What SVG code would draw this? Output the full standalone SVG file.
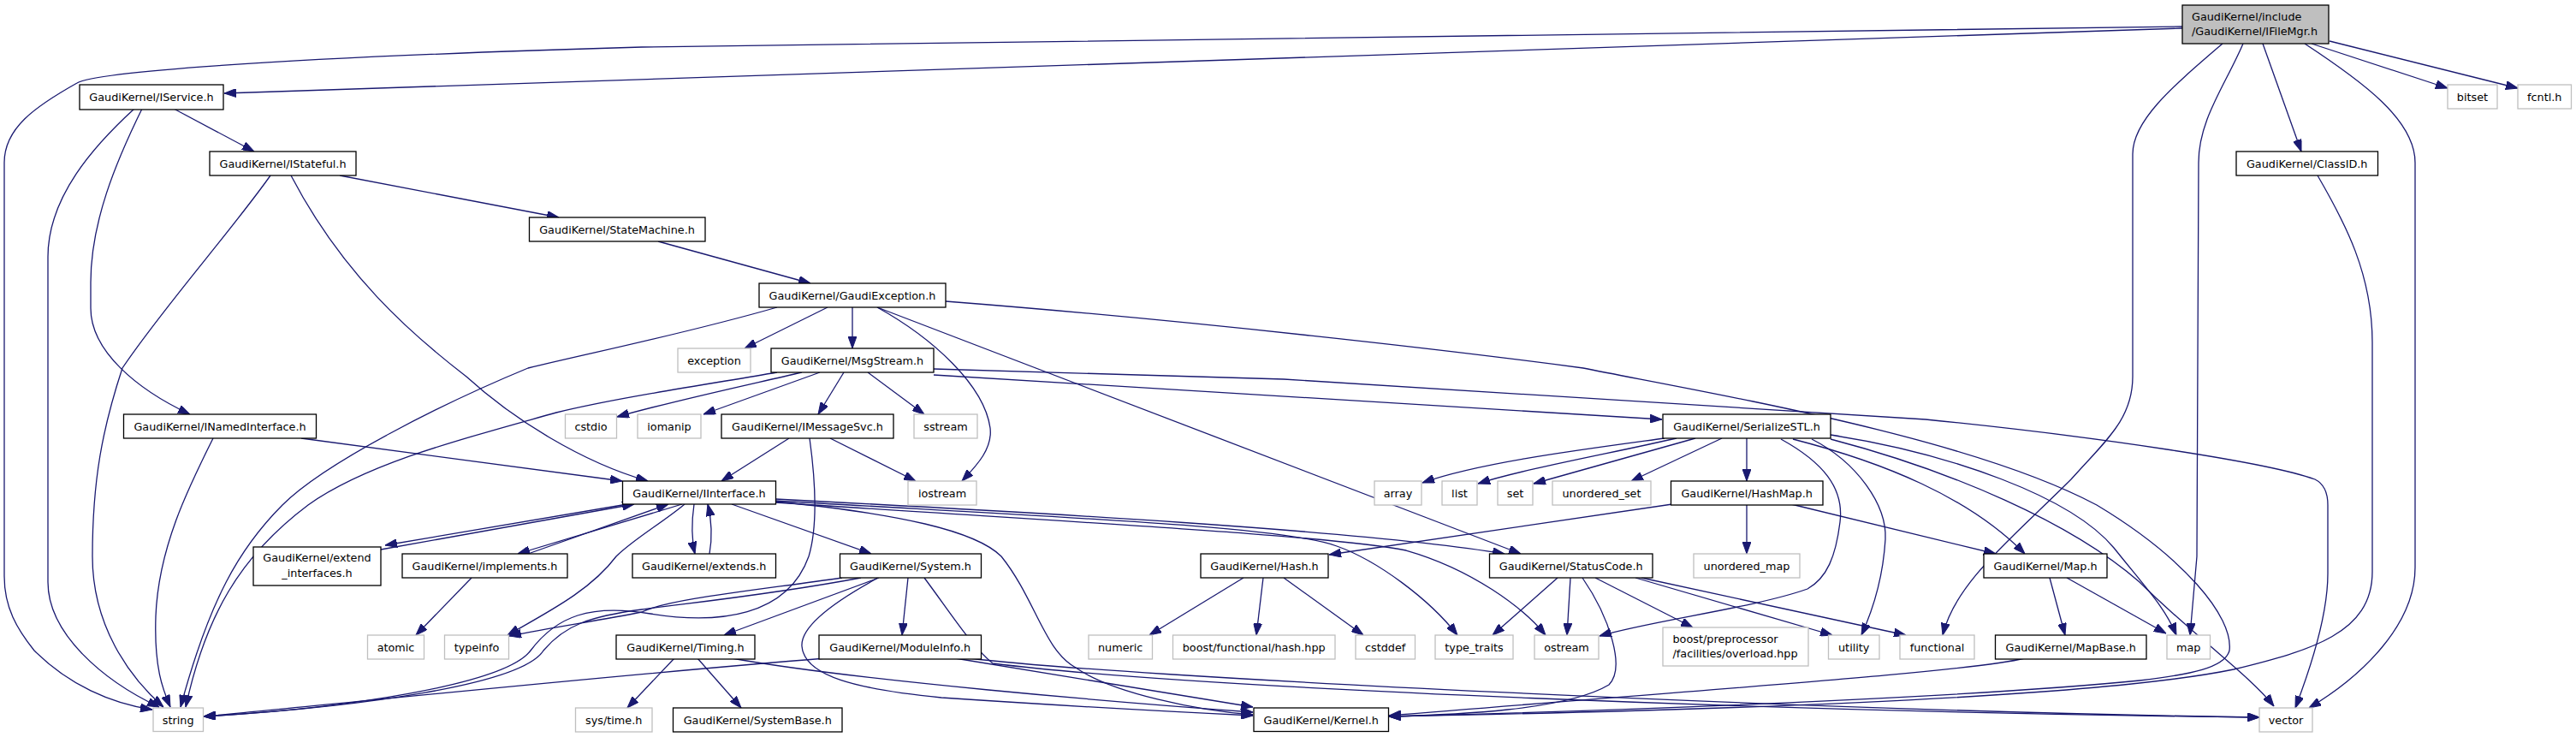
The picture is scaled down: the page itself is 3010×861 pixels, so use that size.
<svg xmlns="http://www.w3.org/2000/svg" width="3010" height="861" viewBox="0 0 3010 861">
<style>
.n rect{fill:#fff;stroke:#000;stroke-width:1.3}
.s rect{fill:#fff;stroke:#bfbfbf;stroke-width:1.3}
text{font-family:"DejaVu Sans","Liberation Sans",sans-serif;font-size:12.8px;fill:#000;text-anchor:middle}
text.l{text-anchor:start}
#edges path{fill:none;stroke:#191970;stroke-width:1.3;marker-end:url(#a)}
</style>
<defs>
<marker id="a" markerUnits="userSpaceOnUse" markerWidth="14" markerHeight="10" refX="14" refY="5" orient="auto">
<path d="M0,0 L14,5 L0,10 z" fill="#191970" stroke="#191970" stroke-width="1"/>
</marker>
</defs>
<rect width="3010" height="861" fill="#fff"/>
<g id="edges">
<path d="M2550,31 L750,55 C300,68 110,85 90,97 C40,125 5,150 5,190 L5,673 C5,710 20,735 40,760 C80,800 130,822 178,829"/>
<path d="M2550,33 L262,109"/>
<path d="M2597,51 C2540,100 2492,140 2492,180 L2492,440 C2492,490 2460,515 2420,560 C2350,630 2285,680 2270,742"/>
<path d="M2621,51 C2600,100 2569,140 2569,190 L2567,650 L2559,742"/>
<path d="M2644,51 L2689,177"/>
<path d="M2693,51 C2760,95 2822,140 2822,190 L2822,663 C2822,730 2760,790 2698,827"/>
<path d="M2701,51 L2860,103"/>
<path d="M2722,48 L2942,103"/>
<path d="M203,127 L297,177"/>
<path d="M157,127 C110,170 56,230 56,300 L56,680 C56,740 120,795 186,826"/>
<path d="M166,127 C135,190 106,260 106,330 L106,360 C106,410 160,455 222,484"/>
<path d="M316,205 C270,270 190,360 143,430 C120,500 108,560 108,650 C108,730 150,790 191,826"/>
<path d="M397,205 L653,254"/>
<path d="M340,205 C400,320 480,390 545,440 C600,490 680,540 757,562"/>
<path d="M769,282 L947,331"/>
<path d="M908,359 C800,390 700,410 617,430 C520,470 380,540 330,590 C280,640 245,700 211,826"/>
<path d="M967,359 L870,407"/>
<path d="M996,359 L996,407"/>
<path d="M1025,359 C1090,395 1150,450 1157,500 C1160,525 1140,545 1124,562"/>
<path d="M1025,359 L1777,647"/>
<path d="M1105,352 C1400,375 1700,410 1850,430 C2000,460 2300,510 2450,590 C2550,650 2610,720 2605,760 C2600,780 2560,788 2500,795 C2300,815 1900,830 1623,837"/>
<path d="M908,435 C820,450 720,465 650,482 C550,510 430,540 360,590 C280,650 240,720 217,826"/>
<path d="M937,435 C850,455 780,470 721,487"/>
<path d="M958,435 L822,484"/>
<path d="M986,435 L956,484"/>
<path d="M1014,435 L1080,484"/>
<path d="M1091,438 L1942,490"/>
<path d="M1091,431 L1500,443 L2250,490 C2450,510 2650,540 2705,560 C2715,565 2720,575 2720,590 L2720,670 C2720,720 2700,780 2682,827"/>
<path d="M922,512 L843,562"/>
<path d="M970,512 L1070,562"/>
<path d="M946,512 C954,570 954,620 945,650 C920,720 840,730 760,717 C690,705 650,720 620,760 C590,800 400,828 238,837"/>
<path d="M352,512 L727,562"/>
<path d="M249,512 C220,570 185,640 182,720 C180,780 190,805 199,826"/>
<path d="M733,589 L450,637"/>
<path d="M445,642 L741,589"/>
<path d="M797,589 L605,647"/>
<path d="M617,647 L781,589"/>
<path d="M811,589 C808,610 808,630 812,647"/>
<path d="M829,647 C832,630 832,610 827,589"/>
<path d="M855,589 L1018,647"/>
<path d="M800,589 C775,610 740,630 720,650 C690,690 640,715 593,742"/>
<path d="M906,583 C1200,598 1600,620 1758,647"/>
<path d="M906,585 C1250,605 1500,615 1562,638 C1610,655 1670,700 1703,742"/>
<path d="M906,587 C1250,610 1550,625 1643,643 C1720,665 1780,710 1806,742"/>
<path d="M906,586 C1050,600 1140,620 1170,650 C1210,700 1220,760 1257,780 C1300,810 1400,830 1464,835"/>
<path d="M551,675 L486,742"/>
<path d="M984,675 C880,690 780,700 750,715 C700,725 650,732 595,743"/>
<path d="M1006,675 C900,695 800,705 750,712 C690,720 660,730 635,760 C610,800 420,826 238,837"/>
<path d="M1027,675 L846,742"/>
<path d="M1061,675 L1054,742"/>
<path d="M1026,675 C980,700 935,730 937,755 C940,790 1000,805 1100,815 C1250,825 1380,832 1464,836"/>
<path d="M1080,675 C1110,715 1135,755 1160,775 C1400,805 2100,832 2640,838"/>
<path d="M1133,769 C1300,790 2100,830 2640,838"/>
<path d="M1116,769 L1464,826"/>
<path d="M965,769 C700,790 400,822 238,837"/>
<path d="M788,769 L733,827"/>
<path d="M815,769 L866,827"/>
<path d="M855,769 C1000,795 1300,820 1464,832"/>
<path d="M1945,512 C1850,525 1730,540 1662,564"/>
<path d="M1959,512 C1880,530 1780,548 1727,565"/>
<path d="M1981,512 L1792,565"/>
<path d="M2012,512 L1906,562"/>
<path d="M2041,512 L2041,562"/>
<path d="M2081,513 C2130,540 2155,570 2150,610 C2145,650 2135,675 2112,688 C2050,710 1930,725 1869,743"/>
<path d="M2117,513 C2170,540 2205,590 2203,630 C2200,680 2185,720 2175,742"/>
<path d="M2095,513 C2200,540 2300,580 2366,647"/>
<path d="M2139,508 C2280,530 2420,580 2470,640 C2510,690 2530,710 2543,742"/>
<path d="M2139,513 C2280,550 2420,610 2500,680 C2560,740 2630,790 2657,825"/>
<path d="M1954,589 L1553,648"/>
<path d="M2041,589 L2041,647"/>
<path d="M2093,589 L2332,647"/>
<path d="M1453,675 L1343,742"/>
<path d="M1476,675 L1468,742"/>
<path d="M1500,675 L1593,742"/>
<path d="M1820,675 L1744,742"/>
<path d="M1835,675 L1831,742"/>
<path d="M1849,675 C1880,720 1900,780 1880,800 C1830,830 1700,835 1623,837"/>
<path d="M1864,675 L1978,733"/>
<path d="M1911,675 L2141,742"/>
<path d="M1918,675 L2227,742"/>
<path d="M2395,675 L2413,742"/>
<path d="M2415,675 L2531,740"/>
<path d="M2366,769 C2300,785 2000,805 1623,836"/>
<path d="M2708,205 C2740,260 2772,320 2772,400 L2772,668 C2772,740 2700,760 2610,782 C2450,815 2000,830 1623,837"/>
</g>
<g id="n_IFileMgr" class="n"><rect x="2550" y="6" width="171" height="45" style="fill:#bfbfbf"/><text class="l" x="2561" y="24">GaudiKernel/include</text><text class="l" x="2561" y="41">/GaudiKernel/IFileMgr.h</text></g>
<g id="n_IService" class="n"><rect x="93" y="99" width="168" height="29"/><text x="177" y="118">GaudiKernel/IService.h</text></g>
<g id="n_IStateful" class="n"><rect x="245" y="177" width="171" height="28"/><text x="330.5" y="196">GaudiKernel/IStateful.h</text></g>
<g id="n_StateMachine" class="n"><rect x="618.5" y="254" width="205.5" height="28"/><text x="721" y="273">GaudiKernel/StateMachine.h</text></g>
<g id="n_GaudiException" class="n"><rect x="887" y="331" width="218" height="28"/><text x="996" y="350">GaudiKernel/GaudiException.h</text></g>
<g id="n_exception" class="s"><rect x="792" y="407" width="85" height="28"/><text x="834.5" y="426">exception</text></g>
<g id="n_MsgStream" class="n"><rect x="901" y="407" width="190" height="28"/><text x="996" y="426">GaudiKernel/MsgStream.h</text></g>
<g id="n_cstdio" class="s"><rect x="660.5" y="484" width="60" height="28"/><text x="690.5" y="503">cstdio</text></g>
<g id="n_iomanip" class="s"><rect x="745" y="484" width="74" height="28"/><text x="782" y="503">iomanip</text></g>
<g id="n_IMessageSvc" class="n"><rect x="843" y="484" width="201" height="28"/><text x="943.5" y="503">GaudiKernel/IMessageSvc.h</text></g>
<g id="n_sstream" class="s"><rect x="1068" y="484" width="74" height="28"/><text x="1105" y="503">sstream</text></g>
<g id="n_INamedInterface" class="n"><rect x="144.5" y="484" width="225" height="28"/><text x="257" y="503">GaudiKernel/INamedInterface.h</text></g>
<g id="n_SerializeSTL" class="n"><rect x="1943" y="484" width="196" height="28"/><text x="2041" y="503">GaudiKernel/SerializeSTL.h</text></g>
<g id="n_IInterface" class="n"><rect x="727.5" y="562" width="179" height="27"/><text x="817" y="580.5">GaudiKernel/IInterface.h</text></g>
<g id="n_iostream" class="s"><rect x="1061" y="562" width="80" height="28"/><text x="1101" y="581">iostream</text></g>
<g id="n_array" class="s"><rect x="1606" y="562" width="55" height="28"/><text x="1633.5" y="581">array</text></g>
<g id="n_list" class="s"><rect x="1685" y="562" width="41" height="28"/><text x="1705.5" y="581">list</text></g>
<g id="n_set" class="s"><rect x="1750" y="562" width="41" height="28"/><text x="1770.5" y="581">set</text></g>
<g id="n_unordered_set" class="s"><rect x="1814" y="562" width="115" height="28"/><text x="1871.5" y="581">unordered_set</text></g>
<g id="n_HashMap" class="n"><rect x="1952.5" y="562" width="177.5" height="28"/><text x="2041.2" y="581">GaudiKernel/HashMap.h</text></g>
<g id="n_extend_interfaces" class="n"><rect x="296" y="639" width="149" height="45"/><text x="370.5" y="656">GaudiKernel/extend</text><text x="370.5" y="674">_interfaces.h</text></g>
<g id="n_implements" class="n"><rect x="470" y="647" width="193" height="28"/><text x="566.5" y="666">GaudiKernel/implements.h</text></g>
<g id="n_extends" class="n"><rect x="739" y="647" width="167.5" height="28"/><text x="822.7" y="666">GaudiKernel/extends.h</text></g>
<g id="n_System" class="n"><rect x="981.5" y="647" width="165" height="28"/><text x="1064" y="666">GaudiKernel/System.h</text></g>
<g id="n_Hash" class="n"><rect x="1403" y="647" width="149" height="28"/><text x="1477.5" y="666">GaudiKernel/Hash.h</text></g>
<g id="n_StatusCode" class="n"><rect x="1740.5" y="647" width="190.5" height="28"/><text x="1835.7" y="666">GaudiKernel/StatusCode.h</text></g>
<g id="n_unordered_map" class="s"><rect x="1979" y="647" width="124" height="28"/><text x="2041" y="666">unordered_map</text></g>
<g id="n_Map" class="n"><rect x="2318" y="647" width="144" height="28"/><text x="2390" y="666">GaudiKernel/Map.h</text></g>
<g id="n_atomic" class="s"><rect x="429.5" y="742" width="66" height="28"/><text x="462.5" y="761">atomic</text></g>
<g id="n_typeinfo" class="s"><rect x="519.5" y="742" width="75" height="28"/><text x="557" y="761">typeinfo</text></g>
<g id="n_Timing" class="n"><rect x="720" y="742" width="162" height="28"/><text x="801" y="761">GaudiKernel/Timing.h</text></g>
<g id="n_ModuleInfo" class="n"><rect x="957" y="742" width="189.5" height="28"/><text x="1051.7" y="761">GaudiKernel/ModuleInfo.h</text></g>
<g id="n_numeric" class="s"><rect x="1272" y="742" width="74.5" height="28"/><text x="1309.2" y="761">numeric</text></g>
<g id="n_boost_hash" class="s"><rect x="1370.5" y="742" width="189.5" height="28"/><text x="1465.2" y="761">boost/functional/hash.hpp</text></g>
<g id="n_cstddef" class="s"><rect x="1584" y="742" width="69.5" height="28"/><text x="1618.7" y="761">cstddef</text></g>
<g id="n_type_traits" class="s"><rect x="1677" y="742" width="91" height="28"/><text x="1722.5" y="761">type_traits</text></g>
<g id="n_ostream" class="s"><rect x="1793" y="742" width="75" height="28"/><text x="1830.5" y="761">ostream</text></g>
<g id="n_boost_pp" class="s"><rect x="1943" y="733" width="170" height="45"/><text class="l" x="1954.5" y="751">boost/preprocessor</text><text class="l" x="1954.5" y="768">/facilities/overload.hpp</text></g>
<g id="n_utility" class="s"><rect x="2136.5" y="742" width="59.5" height="28"/><text x="2166.2" y="761">utility</text></g>
<g id="n_functional" class="s"><rect x="2220" y="742" width="87" height="28"/><text x="2263.5" y="761">functional</text></g>
<g id="n_MapBase" class="n"><rect x="2331.5" y="742" width="176.5" height="28"/><text x="2419.7" y="761">GaudiKernel/MapBase.h</text></g>
<g id="n_map" class="s"><rect x="2532" y="742" width="50.5" height="28"/><text x="2557.2" y="761">map</text></g>
<g id="n_string" class="s"><rect x="179" y="827" width="58.5" height="27.5"/><text x="208.2" y="846">string</text></g>
<g id="n_systime" class="s"><rect x="672.5" y="827" width="89.5" height="28"/><text x="717.2" y="846">sys/time.h</text></g>
<g id="n_SystemBase" class="n"><rect x="786.5" y="827" width="197.5" height="28"/><text x="885.2" y="846">GaudiKernel/SystemBase.h</text></g>
<g id="n_Kernel" class="n"><rect x="1465" y="827" width="157.5" height="27.5"/><text x="1543.7" y="846">GaudiKernel/Kernel.h</text></g>
<g id="n_vector" class="s"><rect x="2640" y="827" width="62" height="28"/><text x="2671" y="846">vector</text></g>
<g id="n_ClassID" class="n"><rect x="2613" y="177" width="165.5" height="28"/><text x="2695.7" y="196">GaudiKernel/ClassID.h</text></g>
<g id="n_bitset" class="s"><rect x="2860" y="99" width="58" height="28"/><text x="2889" y="118">bitset</text></g>
<g id="n_fcntl" class="s"><rect x="2942" y="99" width="62.5" height="28"/><text x="2973.2" y="118">fcntl.h</text></g>
</svg>
